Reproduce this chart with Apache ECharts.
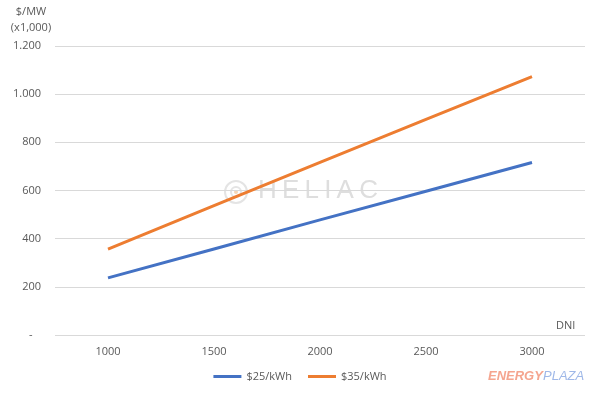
<!DOCTYPE html>
<html><head><meta charset="utf-8">
<script src="https://cdn.jsdelivr.net/npm/echarts@6/dist/echarts.min.js"></script>
<style>html,body{margin:0;padding:0;background:#fff}#c{width:600px;height:397px}</style>
</head><body><div id="c"></div>
<script>
const categories = ['1000', '1500', '2000', '2500', '3000'];
const series25 = [237, 357, 478, 597, 716];
const series35 = [357, 537, 717, 895, 1073];
const seriesNames = ['$25/kWh', '$35/kWh'];
const yTicks = [0, 200, 400, 600, 800, 1000, 1200];

const chart = echarts.init(document.getElementById('c'));
const font = 'Open Sans, Liberation Sans, sans-serif';
chart.setOption({
  animation: false,
  grid: {left: 55, right: 15, top: 46, bottom: 62},
  xAxis: {
    type: 'category', data: categories, boundaryGap: true,
    axisLine: {show: false}, axisTick: {show: false},
    axisLabel: {color: '#595959', fontSize: 11, fontFamily: font, margin: 11}
  },
  yAxis: {
    type: 'value', min: yTicks[0], max: yTicks[yTicks.length - 1], interval: 200,
    axisLine: {show: false}, axisTick: {show: false},
    splitLine: {lineStyle: {color: '#d9d9d9', width: 1}},
    axisLabel: {color: '#595959', fontSize: 11, fontFamily: font, margin: 14,
      formatter: v => v === 0 ? '-   ' : String(v).replace(/\B(?=(\d{3})+(?!\d))/g, '.')}
  },
  legend: {
    bottom: 10, left: 'center', itemWidth: 28, itemHeight: 3, itemGap: 16, icon: 'rect',
    textStyle: {color: '#595959', fontSize: 11, fontFamily: font},
    data: seriesNames
  },
  graphic: [
    {type: 'text', x: 31, y: 4, style: {text: '$/MW\n(x1,000)', fill: '#595959', fontSize: 11, fontFamily: font, lineHeight: 16, align: 'center'}},
    {type: 'text', left: 556, top: 320, style: {text: 'DNI', fill: '#595959', fontSize: 11, fontFamily: font}},
    {type: 'circle', shape: {cx: 236, cy: 192, r: 11}, style: {fill: 'none', stroke: '#e4e4e4', lineWidth: 2}, z: 0},
    {type: 'circle', shape: {cx: 236, cy: 192, r: 5}, style: {fill: 'none', stroke: '#e4e4e4', lineWidth: 2}, z: 0},
    {type: 'circle', shape: {cx: 236, cy: 192, r: 2}, style: {fill: '#f5d7b8'}, z: 0},
    {type: 'text', left: 258, top: 178, style: {text: 'H\u2009E\u2009L\u2009I\u2009A\u2009C', fill: '#dedede', fontSize: 26, fontFamily: 'Liberation Sans, sans-serif'}, z: 0},
    {type: 'text', left: 488, top: 370, style: {text: 'ENERGY', fill: '#f5a58f', fontSize: 13, fontWeight: 'bold', fontStyle: 'italic', fontFamily: 'Liberation Sans, sans-serif'}},
    {type: 'text', left: 543, top: 370, style: {text: 'PLAZA', fill: '#9fb8e8', fontSize: 13, fontStyle: 'italic', fontFamily: 'Liberation Sans, sans-serif'}}
  ],
  series: [
    {name: seriesNames[0], type: 'line', data: series25, symbol: 'none', lineStyle: {color: '#4472C4', width: 3}, itemStyle: {color: '#4472C4'}, z: 3},
    {name: seriesNames[1], type: 'line', data: series35, symbol: 'none', lineStyle: {color: '#ED7D31', width: 3}, itemStyle: {color: '#ED7D31'}, z: 3}
  ]
});
</script></body></html>
